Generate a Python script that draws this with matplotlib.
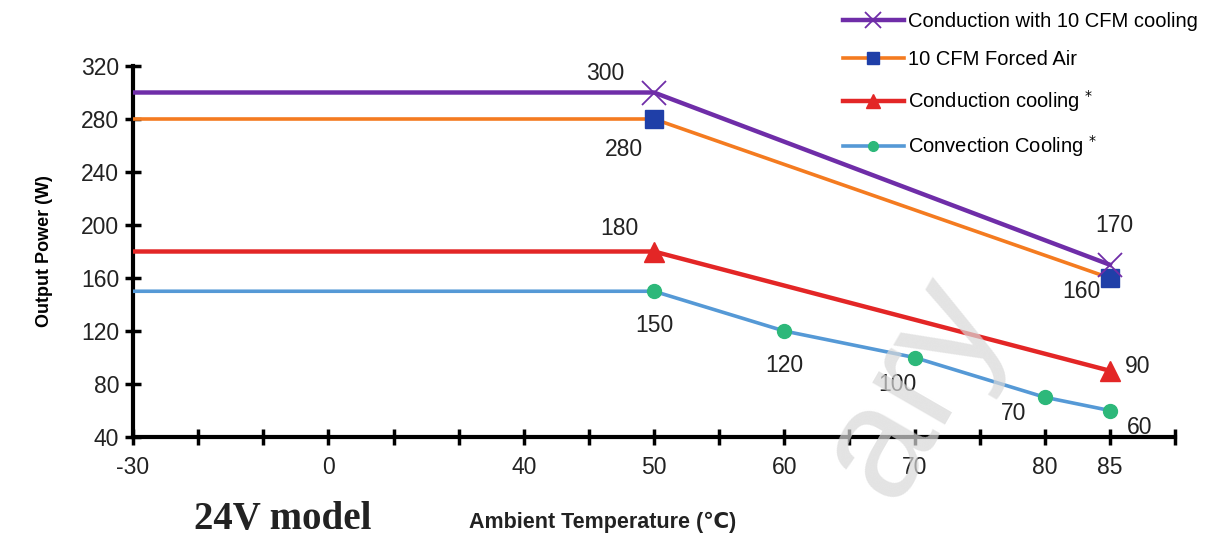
import matplotlib
matplotlib.use('Agg')
import matplotlib.pyplot as plt
import numpy as np

plt.rcParams['font.family'] = ['Liberation Sans', 'DejaVu Sans']

# temperatures and output power per cooling mode
temp_main = [-30, 50, 85]
conduction_10cfm = [300, 300, 170]
forced_air = [280, 280, 160]
conduction = [180, 180, 90]
temp_conv = [-30, 50, 60, 70, 80, 85]
convection = [150, 150, 120, 100, 70, 60]

# the axis is not linear: label temps and where they sit on the axis
axis_temps = [-30, 0, 40, 50, 60, 70, 80, 85, 90]
axis_pos = [0, 3, 6, 8, 10, 12, 14, 15, 16]
tick_labels = ['-30', '0', '40', '50', '60', '70', '80', '85']

def fwd(t):
    return np.interp(t, axis_temps, axis_pos)

def inv(p):
    return np.interp(p, axis_pos, axis_temps)

fig = plt.figure(figsize=(12.2, 5.39), dpi=100)
ax = fig.add_axes([133/1220, 1-437/539, (1175-133)/1220, (437-66)/539])
ax.set_xscale('function', functions=(fwd, inv))

purple = '#6f2da8'
orange = '#f47b20'
red = '#e32626'
lblue = '#5599d6'

ax.plot(temp_main, conduction_10cfm, color=purple, lw=3.2, marker='x', ms=17, mew=1.3,
        markevery=[1, 2], label='Conduction with 10 CFM cooling', zorder=4)
ax.plot(temp_main, forced_air, color=orange, lw=2.6, marker='s', ms=13, mfc='#1f3fa8', mec='#1f3fa8',
        markevery=[1, 2], label='10 CFM Forced Air', zorder=3)
ax.plot(temp_main, conduction, color=red, lw=3.2, marker='^', ms=14, mfc=red, mec=red,
        markevery=[1, 2], label='Conduction cooling $^{*}$', zorder=3)
ax.plot(temp_conv, convection, color=lblue, lw=2.6, marker='o', ms=10, mfc='#2db87a', mec='#2db87a',
        markevery=[1, 2, 3, 4, 5], label='Convection Cooling $^{*}$', zorder=3)

# data labels (value, x, y, pixel offset)
fs = 16.5
labels = [
    (temp_main[1], conduction_10cfm[1], (-49, 19)),
    (temp_main[1], forced_air[1], (-30, -30)),
    (temp_main[2], conduction_10cfm[2], (4, 39)),
    (temp_main[2], forced_air[2], (-28, -14)),
    (temp_main[1], conduction[1], (-35, 23)),
    (temp_main[2], conduction[2], (28, 4)),
]
for i in range(1, len(temp_conv)):
    off = [(0, -34), (0, -34), (-17, -27), (-31, -16), (30, -17)][i - 1]
    labels.append((temp_conv[i], convection[i], off))
for x, y, off in labels:
    ax.annotate(str(y), (x, y), xytext=off, textcoords='offset pixels',
                ha='center', va='center', fontsize=fs, color='#222222')

ax.set_xlim(-30, 90)
ax.set_ylim(40, 320)
ax.set_xticks(inv(np.arange(0, 17)), minor=True)
ax.set_xticks(axis_temps[:-1])
ax.set_xticklabels(tick_labels)
ax.set_yticks(np.arange(40, 321, 40))
ax.tick_params(axis='both', which='both', direction='inout', length=12, width=2.5, labelsize=fs,
               labelcolor='#222222')
ax.tick_params(axis='x', pad=8)
ax.tick_params(axis='y', pad=4)
ax.spines['top'].set_visible(False)
ax.spines['right'].set_visible(False)
ax.spines['left'].set_linewidth(3)
ax.spines['bottom'].set_linewidth(3)

ax.set_ylabel('Output Power (W)', fontsize=13, fontweight='bold', labelpad=20)
fig.text(603/1220, 1-522/539, 'Ambient Temperature (℃)', ha='center', va='center',
         fontsize=15.5, fontweight='bold', color='#222222')
fig.text(283/1220, 1-520/539, '24V model', ha='center', va='center', fontsize=28,
         fontweight='bold', family='Liberation Serif', color='#222222')

# faint watermark
fig.text(912/1220, 1-388/539, 'ary', ha='center', va='center', fontsize=115, rotation=60,
         color='#d8d8d8', alpha=0.7, zorder=0)

fig.legend(loc='upper left', bbox_to_anchor=(825/1220, 1.012), frameon=False, fontsize=14.5,
           handlelength=3.0, labelspacing=0.95, handletextpad=0.2, markerscale=0.7)

fig.savefig('out.png', dpi=100)
